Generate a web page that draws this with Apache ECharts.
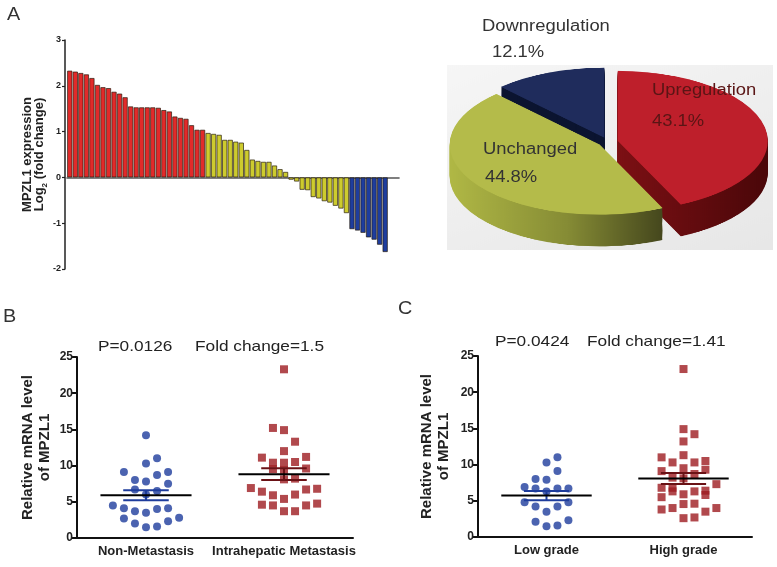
<!DOCTYPE html>
<html>
<head>
<meta charset="utf-8">
<script src="https://cdn.jsdelivr.net/npm/echarts@6/dist/echarts.min.js"></script>
<style>
  html, body { margin: 0; padding: 0; background: #fff; }
  #wrap { position: relative; width: 777px; height: 567px; overflow: hidden; background: #fff; }
  #pie { position: absolute; left: 428px; top: -38px; width: 360px; height: 420px;
         transform-origin: 180px 180px; transform: scaleY(0.467); z-index: 1; }
  #main { position: absolute; left: 0; top: 0; width: 777px; height: 567px; z-index: 2; }
</style>
</head>
<body>
<div id="wrap">
  <div id="pie"></div>
  <div id="main"></div>
</div>
<script>
// ---------------- DATA ----------------
// Panel A: log2 fold change per sample, sorted
const upValues = [2.33, 2.31, 2.28, 2.25, 2.17, 2.02, 1.97, 1.95, 1.87, 1.83, 1.75, 1.55, 1.53, 1.53, 1.53, 1.53, 1.52, 1.47, 1.44, 1.33, 1.30, 1.28, 1.14, 1.04, 1.04];
const unchangedValues = [0.97, 0.95, 0.93, 0.82, 0.82, 0.78, 0.76, 0.60, 0.39, 0.36, 0.34, 0.34, 0.26, 0.18, 0.12, -0.05, -0.09, -0.27, -0.28, -0.43, -0.46, -0.52, -0.55, -0.62, -0.68, -0.78];
const downValues = [-1.13, -1.16, -1.21, -1.31, -1.36, -1.47, -1.63];
const yTicksA = { min: -2, max: 3, step: 1 };

// Panel A pie
const pieNames = ['Upregulation', 'Unchanged', 'Downregulation'];
const pieValues = [43.1, 44.8, 12.1];

// Panel B
const bCategories = ['Non-Metastasis', 'Intrahepatic Metastasis'];
const bNonMetCols = [0, 1, 0, -2, 2, -1, 0, 1, 2, -1, 0, 1, -3, -2, -1, 0, 1, 2, -2, -1, 0, 1, 2, 3];
const bNonMetValues = [14.2, 11.0, 10.3, 9.1, 9.1, 8.0, 7.8, 8.7, 7.5, 6.7, 6.0, 6.5, 4.5, 4.1, 3.7, 3.5, 4.0, 4.1, 2.7, 2.0, 1.5, 1.6, 2.3, 2.8];
const bIntraCols = [0, -1, 0, 1, 0, -2, 2, -1, 0, 1, -1, 0, 2, 0, 1, -3, -2, -1, 0, 1, 2, 3, -2, -1, 2, 3, 0, 1];
const bIntraValues = [23.3, 15.2, 14.9, 13.3, 12.0, 11.1, 11.2, 10.4, 10.4, 10.5, 9.5, 9.4, 9.6, 8.1, 8.2, 6.9, 6.4, 5.9, 5.4, 6.0, 6.7, 6.8, 4.6, 4.5, 4.5, 4.75, 3.7, 3.7];
const bTitleP = 'P=0.0126';
const bTitleFold = 'Fold change=1.5';

// Panel C
const cCategories = ['Low grade', 'High grade'];
const cLowCols = [1, 0, 1, -1, 0, -2, -1, 0, 1, 2, -2, -1, 0, 1, 2, -1, 0, 1, 2];
const cLowValues = [11.0, 10.3, 9.1, 8.0, 7.9, 6.9, 6.7, 6.3, 6.7, 6.7, 4.8, 4.2, 3.5, 4.2, 4.8, 2.1, 1.5, 1.6, 2.3];
const cHighCols = [0, 0, 1, 0, -2, 0, -1, 2, 1, -2, 0, 2, -1, 1, 0, -2, -1, 1, 2, 3, -2, 0, -2, -1, 0, 1, 2, 3, 0, 1, 2, -1];
const cHighValues = [23.2, 14.9, 14.2, 13.2, 11.0, 11.3, 10.3, 10.5, 10.3, 9.1, 9.5, 9.3, 8.2, 8.7, 8.1, 6.8, 6.3, 6.3, 6.4, 7.3, 5.5, 5.9, 3.8, 4.0, 4.55, 4.6, 3.5, 4.0, 2.6, 2.7, 5.8, 6.8];
const cTitleP = 'P=0.0424';
const cTitleFold = 'Fold change=1.41';

// ---------------- STYLE ----------------
const FONT = "'Liberation Sans', Arial, Helvetica, sans-serif";
const RED_BAR = '#E22A2A', YEL_BAR = '#CDCB2E', BLUE_BAR = '#1E3D9E';
const DOT_BLUE = '#1E3C9C', SQ_RED = '#9E1C21';
const JIT = 0.08;

function meanSem(a) {
  const n = a.length;
  const m = a.reduce((s, v) => s + v, 0) / n;
  const sd = Math.sqrt(a.reduce((s, v) => s + (v - m) * (v - m), 0) / (n - 1));
  return [m, sd / Math.sqrt(n)];
}

// ---------------- MAIN CHART ----------------
const main = echarts.init(document.getElementById('main'), null, { renderer: 'canvas' });

const nA = upValues.length + unchangedValues.length + downValues.length;
const sampleCats = [];
for (let i = 0; i < nA; i++) sampleCats.push('S' + (i + 1));
const upData = upValues.map((v, i) => [i, v]);
const unchData = unchangedValues.map((v, i) => [upValues.length + i, v]);
const downData = downValues.map((v, i) => [upValues.length + unchangedValues.length + i, v]);

function barSeries(data, color) {
  return {
    type: 'bar', xAxisIndex: 0, yAxisIndex: 0, data: data,
    barWidth: 5.2, barGap: '-100%',
    itemStyle: { color: color, borderColor: 'rgba(35,25,10,0.85)', borderWidth: 0.8 },
    silent: true
  };
}

function meanRender(semColor) {
  return function (params, api) {
    const x = api.value(0), m = api.value(1), s = api.value(2);
    const c = api.coord([x, m]);
    const hi = api.coord([x, m + s]);
    const lo = api.coord([x, m - s]);
    const unit = api.size([1, 0])[0];
    const hw = unit * 0.33, sw = unit * 0.165;
    return {
      type: 'group',
      children: [
        { type: 'line', shape: { x1: c[0], y1: hi[1], x2: c[0], y2: lo[1] }, style: { stroke: semColor, lineWidth: 2 } },
        { type: 'line', shape: { x1: c[0] - sw, y1: hi[1], x2: c[0] + sw, y2: hi[1] }, style: { stroke: semColor, lineWidth: 2 } },
        { type: 'line', shape: { x1: c[0] - sw, y1: lo[1], x2: c[0] + sw, y2: lo[1] }, style: { stroke: semColor, lineWidth: 2 } },
        { type: 'line', shape: { x1: c[0] - hw, y1: c[1], x2: c[0] + hw, y2: c[1] }, style: { stroke: '#000', lineWidth: 2 } }
      ]
    };
  };
}

function catAxis(grid, cats) {
  return {
    type: 'category', gridIndex: grid, data: cats,
    axisLine: { onZero: false, lineStyle: { color: '#111', width: 2 } },
    axisTick: { alignWithLabel: true, length: 5, lineStyle: { color: '#111', width: 2 } },
    axisLabel: { interval: 0, fontFamily: FONT, fontWeight: 'bold', fontSize: 13, color: '#222', margin: 7 },
    splitLine: { show: false }
  };
}
function valXAxis(grid) {
  return { type: 'value', gridIndex: grid, min: -0.5, max: 1.5, show: false, splitLine: { show: false } };
}
function scatterY(grid, gap) {
  return {
    type: 'value', gridIndex: grid, min: 0, max: 25, interval: 5,
    name: 'Relative mRNA level\nof MPZL1', nameLocation: 'middle', nameRotate: 90, nameGap: gap,
    nameTextStyle: { fontFamily: FONT, fontWeight: 'bold', fontSize: 15, color: '#222', lineHeight: 17 },
    axisLine: { show: true, onZero: false, lineStyle: { color: '#111', width: 2 } },
    axisTick: { show: true, length: 5, lineStyle: { color: '#111', width: 2 } },
    axisLabel: { fontFamily: FONT, fontWeight: 'bold', fontSize: 12, color: '#222', margin: 4 },
    splitLine: { show: false }
  };
}

const bStatsL = meanSem(bNonMetValues), bStatsR = meanSem(bIntraValues);
const cStatsL = meanSem(cLowValues), cStatsR = meanSem(cHighValues);

function txt(x, y, text, size, color, sx) {
  return {
    type: 'text', x: x, y: y, scaleX: sx || 1,
    style: { text: text, x: 0, y: 0, fill: color || '#222', font: 'normal ' + size + 'px ' + FONT, verticalAlign: 'middle', align: 'left' },
    silent: true
  };
}

const mainOpt = {
  animation: false,
  backgroundColor: 'transparent',
  grid: [
    { left: 67, right: 378, top: 40, bottom: 298 },
    { left: 77, right: 424, top: 357, bottom: 29 },
    { left: 478, right: 25, top: 356, bottom: 30 }
  ],
  xAxis: [
    {
      type: 'category', gridIndex: 0, data: sampleCats, max: nA + 1,
      axisLine: { onZero: true, lineStyle: { color: '#555', width: 1.6 } },
      axisTick: { show: false }, axisLabel: { show: false }, splitLine: { show: false }
    },
    catAxis(1, bCategories),
    valXAxis(1),
    catAxis(2, cCategories),
    valXAxis(2)
  ],
  yAxis: [
    {
      type: 'value', gridIndex: 0, min: yTicksA.min, max: yTicksA.max, interval: yTicksA.step, offset: 2,
      name: '{b|MPZL1 expression}\n{b|Log}{s|2}{b| (fold change)}',
      nameLocation: 'middle', nameRotate: 90, nameGap: 20,
      nameTextStyle: {
        rich: {
          b: { fontFamily: FONT, fontWeight: 'bold', fontSize: 13, color: '#222', lineHeight: 12 },
          s: { fontFamily: FONT, fontWeight: 'bold', fontSize: 8, color: '#222', lineHeight: 12, verticalAlign: 'bottom', padding: [0, 0, -4, 0] }
        }
      },
      axisLine: { show: true, onZero: false, lineStyle: { color: '#222', width: 1.5 } },
      axisTick: { show: true, length: 3, lineStyle: { color: '#222', width: 1.2 } },
      axisLabel: { fontFamily: FONT, fontWeight: 'bold', fontSize: 9, color: '#222', margin: 4 },
      splitLine: { show: false }
    },
    scatterY(1, 24),
    scatterY(2, 26)
  ],
  series: [
    barSeries(upData, RED_BAR),
    barSeries(unchData, YEL_BAR),
    barSeries(downData, BLUE_BAR),
    {
      type: 'scatter', xAxisIndex: 2, yAxisIndex: 1, symbol: 'circle', symbolSize: 8,
      itemStyle: { color: DOT_BLUE }, silent: true,
      data: bNonMetCols.map((c, i) => [0 + c * JIT, bNonMetValues[i]])
    },
    {
      type: 'scatter', xAxisIndex: 2, yAxisIndex: 1, symbol: 'rect', symbolSize: 8,
      itemStyle: { color: SQ_RED }, silent: true,
      data: bIntraCols.map((c, i) => [1 + c * JIT, bIntraValues[i]])
    },
    { type: 'custom', xAxisIndex: 2, yAxisIndex: 1, z: 5, silent: true, renderItem: meanRender(DOT_BLUE), data: [[0, bStatsL[0], bStatsL[1]]] },
    { type: 'custom', xAxisIndex: 2, yAxisIndex: 1, z: 5, silent: true, renderItem: meanRender('#6a1216'), data: [[1, bStatsR[0], bStatsR[1]]] },
    {
      type: 'scatter', xAxisIndex: 4, yAxisIndex: 2, symbol: 'circle', symbolSize: 8,
      itemStyle: { color: DOT_BLUE }, silent: true,
      data: cLowCols.map((c, i) => [0 + c * JIT, cLowValues[i]])
    },
    {
      type: 'scatter', xAxisIndex: 4, yAxisIndex: 2, symbol: 'rect', symbolSize: 8,
      itemStyle: { color: SQ_RED }, silent: true,
      data: cHighCols.map((c, i) => [1 + c * JIT, cHighValues[i]])
    },
    { type: 'custom', xAxisIndex: 4, yAxisIndex: 2, z: 5, silent: true, renderItem: meanRender(DOT_BLUE), data: [[0, cStatsL[0], cStatsL[1]]] },
    { type: 'custom', xAxisIndex: 4, yAxisIndex: 2, z: 5, silent: true, renderItem: meanRender('#6a1216'), data: [[1, cStatsR[0], cStatsR[1]]] }
  ],
  graphic: [
    txt(7, 15, 'A', 18, '#333', 1.1),
    txt(3, 317, 'B', 18, '#333', 1.1),
    txt(398, 309, 'C', 18, '#333', 1.1),
    txt(98, 347, bTitleP, 15, '#222', 1.15),
    txt(195, 347, bTitleFold, 15, '#222', 1.15),
    txt(495, 342, cTitleP, 15, '#222', 1.15),
    txt(587, 342, cTitleFold, 15, '#222', 1.15),
    txt(482, 27, pieNames[2], 16, '#333', 1.15),
    txt(492, 53, pieValues[2].toFixed(1) + '%', 16, '#333', 1.15),
    txt(652, 91, pieNames[0], 16, '#5a1515', 1.15),
    txt(652, 122, pieValues[0].toFixed(1) + '%', 16, '#5a1515', 1.15),
    txt(483, 150, pieNames[1], 16, '#333', 1.15),
    txt(485, 178, pieValues[1].toFixed(1) + '%', 16, '#333', 1.15)
  ]
};
main.setOption(mainOpt);

// ---------------- 3D-LOOK PIE (separate instance, flattened via CSS) ----------------
const pie = echarts.init(document.getElementById('pie'), null, { renderer: 'canvas' });
const topColors = ['#BE1F2B', '#B4BB4A', '#1F2C5C'];
const sideColors = [
  { type: 'linear', x: 0, y: 0, x2: 1, y2: 0, colorStops: [{ offset: 0, color: '#7C1014' }, { offset: 1, color: '#4A0709' }] },
  { type: 'linear', x: 0, y: 0, x2: 1, y2: 0, colorStops: [{ offset: 0, color: '#B0B845' }, { offset: 0.55, color: '#868C35' }, { offset: 1, color: '#45471D' }] },
  '#0B1430'
];
function pieLayer(dy, colors) {
  return {
    type: 'pie', center: [180, 180 + dy], radius: 150, startAngle: 90, clockwise: true,
    selectedMode: 'multiple', selectedOffset: 10, silent: true, animation: false,
    label: { show: false }, labelLine: { show: false }, emphasis: { disabled: true },
    itemStyle: { borderWidth: 0 },
    data: pieNames.map((n, i) => ({ name: n, value: pieValues[i], selected: true, itemStyle: { color: colors[i] } }))
  };
}
const pieSeries = [];
const DEPTH = 68;
for (let d = DEPTH; d > 0; d -= 2) pieSeries.push(pieLayer(d, sideColors));
pieSeries.push(pieLayer(0, topColors));
pie.setOption({
  animation: false,
  graphic: [{
    type: 'rect', z: -10, silent: true,
    shape: { x: 19, y: 15, width: 326, height: 396 },
    style: { fill: { type: 'linear', x: 0, y: 0, x2: 1, y2: 1, colorStops: [{ offset: 0, color: '#f6f6f6' }, { offset: 1, color: '#e7e7e7' }] } }
  }],
  series: pieSeries
});
</script>
</body>
</html>
